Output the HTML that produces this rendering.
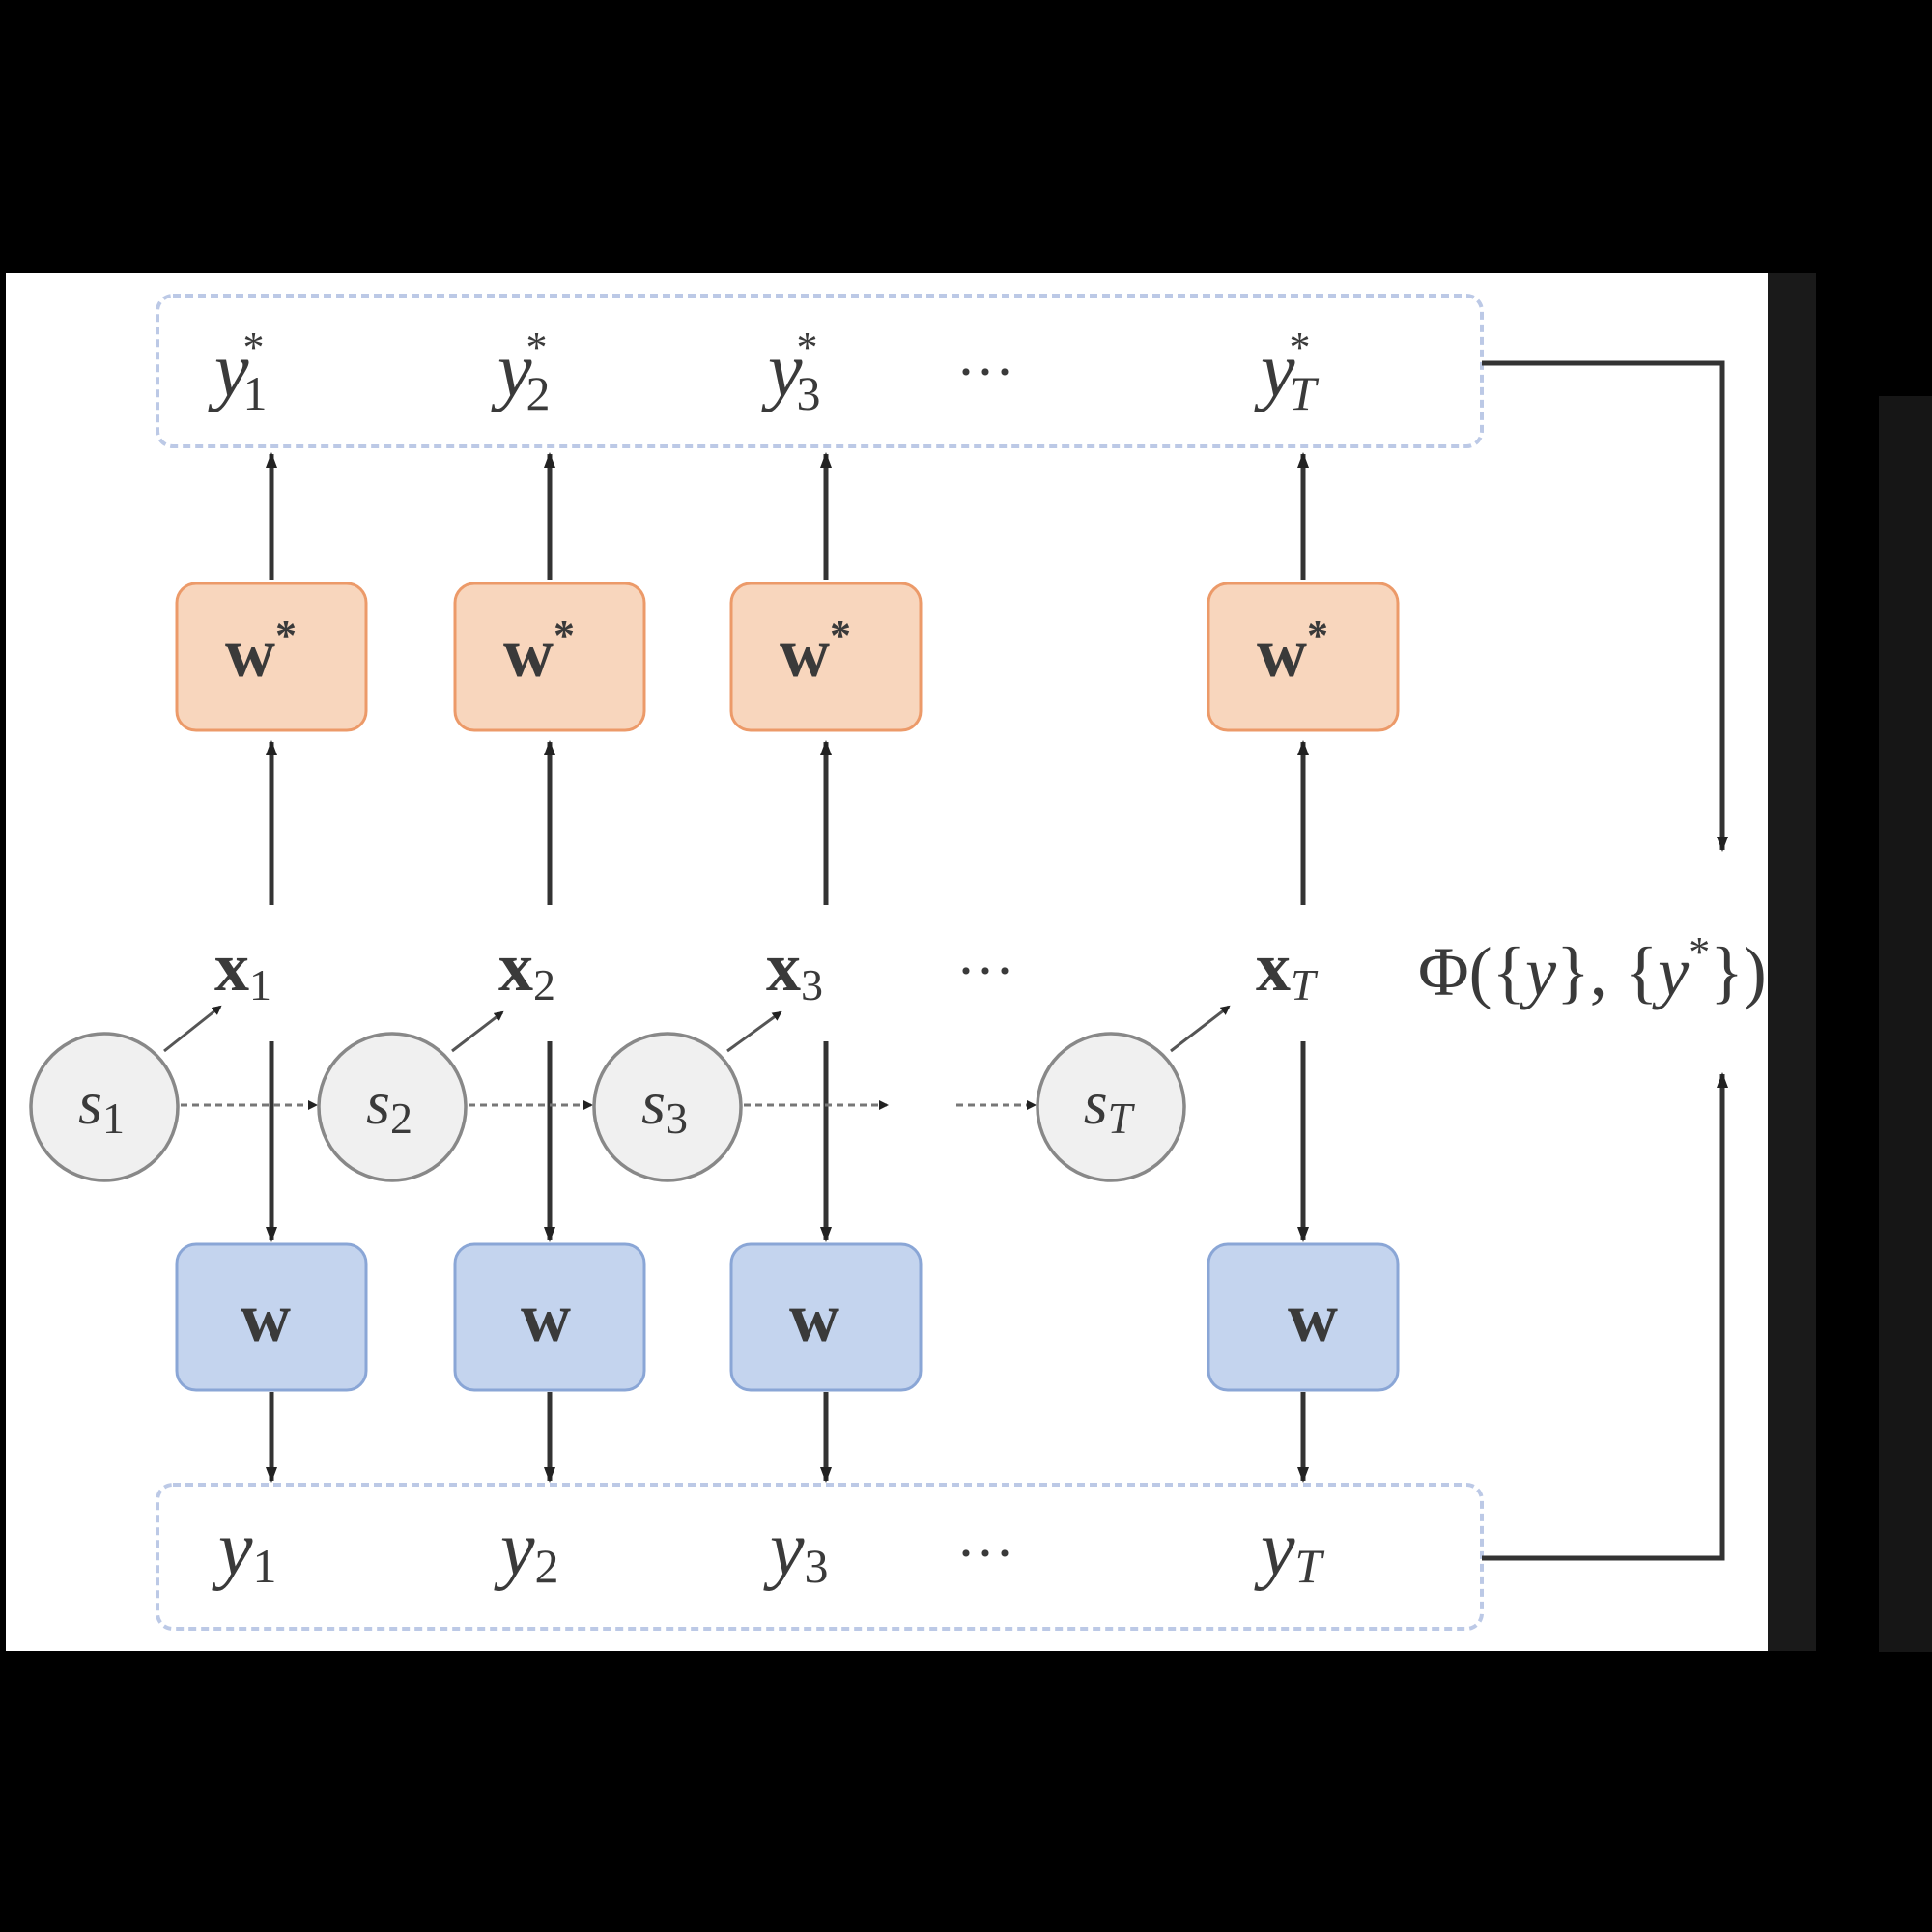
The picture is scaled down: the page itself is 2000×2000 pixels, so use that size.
<!DOCTYPE html>
<html><head><meta charset="utf-8"><style>
html,body{margin:0;padding:0;background:#000;}
svg{display:block}
text{font-family:"Liberation Serif",serif;fill:#3a3a3a}
</style></head><body>
<svg width="2000" height="2000" viewBox="0 0 2000 2000" xmlns="http://www.w3.org/2000/svg">
<defs>
<marker id="a" markerWidth="10" markerHeight="10" refX="8" refY="5" orient="auto" markerUnits="userSpaceOnUse"><path d="M0,0 L10,5 L0,10 Z" fill="#222"/></marker>
<marker id="b" markerWidth="16" markerHeight="16" refX="14" refY="8" orient="auto" markerUnits="userSpaceOnUse"><path d="M0,2 L16,8 L0,14 Z" fill="#222"/></marker>
<clipPath id="c"><rect x="6" y="283" width="1824" height="1426"/></clipPath>
</defs>
<rect x="0" y="0" width="2000" height="2000" fill="#000"/>
<rect x="1830" y="283" width="50" height="1426" fill="#1a1a1a"/>
<rect x="1945" y="410" width="55" height="1300" fill="#161616"/>
<rect x="6" y="283" width="1824" height="1426" fill="#fff"/>
<g clip-path="url(#c)">
<rect x="163" y="306" width="1371" height="156" rx="16" fill="none" stroke="#bcc9e6" stroke-width="4" stroke-dasharray="8,5"/>
<rect x="163" y="1537" width="1371" height="149" rx="16" fill="none" stroke="#bcc9e6" stroke-width="4" stroke-dasharray="8,5"/>
<g stroke="#333" stroke-width="5" fill="none">
<path d="M1534,376 H1783 V880" marker-end="url(#b)"/>
<path d="M1534,1613 H1783 V1112" marker-end="url(#b)"/>
</g>
<g stroke="#333" stroke-width="5">
<line x1="281" y1="937" x2="281" y2="768" marker-end="url(#b)"/>
<line x1="281" y1="600" x2="281" y2="470" marker-end="url(#b)"/>
<line x1="281" y1="1078" x2="281" y2="1284" marker-end="url(#b)"/>
<line x1="281" y1="1441" x2="281" y2="1533" marker-end="url(#b)"/>
<line x1="569" y1="937" x2="569" y2="768" marker-end="url(#b)"/>
<line x1="569" y1="600" x2="569" y2="470" marker-end="url(#b)"/>
<line x1="569" y1="1078" x2="569" y2="1284" marker-end="url(#b)"/>
<line x1="569" y1="1441" x2="569" y2="1533" marker-end="url(#b)"/>
<line x1="855" y1="937" x2="855" y2="768" marker-end="url(#b)"/>
<line x1="855" y1="600" x2="855" y2="470" marker-end="url(#b)"/>
<line x1="855" y1="1078" x2="855" y2="1284" marker-end="url(#b)"/>
<line x1="855" y1="1441" x2="855" y2="1533" marker-end="url(#b)"/>
<line x1="1349" y1="937" x2="1349" y2="768" marker-end="url(#b)"/>
<line x1="1349" y1="600" x2="1349" y2="470" marker-end="url(#b)"/>
<line x1="1349" y1="1078" x2="1349" y2="1284" marker-end="url(#b)"/>
<line x1="1349" y1="1441" x2="1349" y2="1533" marker-end="url(#b)"/>
</g>
<g fill="#f8d6bd" stroke="#ec9a69" stroke-width="3">
<rect x="183" y="604" width="196" height="152" rx="20"/>
<rect x="471" y="604" width="196" height="152" rx="20"/>
<rect x="757" y="604" width="196" height="152" rx="20"/>
<rect x="1251" y="604" width="196" height="152" rx="20"/>
</g>
<g fill="#c4d4ee" stroke="#8aa6d6" stroke-width="3">
<rect x="183" y="1288" width="196" height="151" rx="20"/>
<rect x="471" y="1288" width="196" height="151" rx="20"/>
<rect x="757" y="1288" width="196" height="151" rx="20"/>
<rect x="1251" y="1288" width="196" height="151" rx="20"/>
</g>
<g font-weight="bold" font-size="72" text-anchor="middle">
<text x="270" y="700">w<tspan font-size="44" dy="-28">*</tspan></text>
<text x="558" y="700">w<tspan font-size="44" dy="-28">*</tspan></text>
<text x="844" y="700">w<tspan font-size="44" dy="-28">*</tspan></text>
<text x="1338" y="700">w<tspan font-size="44" dy="-28">*</tspan></text>
<text x="275" y="1388">w</text>
<text x="565" y="1388">w</text>
<text x="843" y="1388">w</text>
<text x="1359" y="1388">w</text>
</g>
<g font-size="72">
<text x="222" y="1025" font-weight="bold">x<tspan font-weight="normal" font-size="46" dy="10">1</tspan></text>
<text x="516" y="1025" font-weight="bold">x<tspan font-weight="normal" font-size="46" dy="10">2</tspan></text>
<text x="793" y="1025" font-weight="bold">x<tspan font-weight="normal" font-size="46" dy="10">3</tspan></text>
<text x="1300" y="1025" font-weight="bold">x<tspan font-weight="normal" font-size="46" dy="10" font-style="italic">T</tspan></text>
<text x="990" y="1025" font-size="60">···</text>
<text x="1468" y="1030">Φ({<tspan font-style="italic">y</tspan>}, {<tspan font-style="italic">y</tspan><tspan font-size="44" dy="-30">*</tspan><tspan dy="30">})</tspan></text>
</g>
<g font-size="80" font-style="italic">
<text x="222" y="410">y<tspan font-size="44" font-style="normal" dy="-36" dx="-6">*</tspan><tspan font-size="50" font-style="normal" dy="50" dx="-22">1</tspan></text>
<text x="515" y="410">y<tspan font-size="44" font-style="normal" dy="-36" dx="-6">*</tspan><tspan font-size="50" font-style="normal" dy="50" dx="-22">2</tspan></text>
<text x="795" y="410">y<tspan font-size="44" font-style="normal" dy="-36" dx="-6">*</tspan><tspan font-size="50" font-style="normal" dy="50" dx="-22">3</tspan></text>
<text x="1305" y="410">y<tspan font-size="44" font-style="normal" dy="-36" dx="-6">*</tspan><tspan font-size="50" dy="50" dx="-22">T</tspan></text>
<text x="990" y="405" font-style="normal" font-size="60">···</text>
<text x="226" y="1630">y<tspan font-size="50" font-style="normal" dy="8">1</tspan></text>
<text x="518" y="1630">y<tspan font-size="50" font-style="normal" dy="8">2</tspan></text>
<text x="797" y="1630">y<tspan font-size="50" font-style="normal" dy="8">3</tspan></text>
<text x="1305" y="1630">y<tspan font-size="50" dy="8">T</tspan></text>
<text x="990" y="1628" font-style="normal" font-size="60">···</text>
</g>
<g stroke="#777" stroke-width="3" stroke-dasharray="7,5" fill="none">
<line x1="187" y1="1144" x2="327" y2="1144" marker-end="url(#a)"/>
<line x1="485" y1="1144" x2="612" y2="1144" marker-end="url(#a)"/>
<line x1="770" y1="1144" x2="918" y2="1144" marker-end="url(#a)"/>
<line x1="990" y1="1144" x2="1071" y2="1144" marker-end="url(#a)"/>
</g>
<g stroke="#555" stroke-width="3" fill="none">
<line x1="170" y1="1088" x2="228" y2="1042" marker-end="url(#a)"/>
<line x1="468" y1="1088" x2="520" y2="1048" marker-end="url(#a)"/>
<line x1="753" y1="1088" x2="808" y2="1048" marker-end="url(#a)"/>
<line x1="1212" y1="1088" x2="1272" y2="1042" marker-end="url(#a)"/>
</g>
<g fill="#f0f0f0" stroke="#888" stroke-width="3.5">
<circle cx="108" cy="1146" r="76"/>
<circle cx="406" cy="1146" r="76"/>
<circle cx="691" cy="1146" r="76"/>
<circle cx="1150" cy="1146" r="76"/>
</g>
<g font-size="64" font-style="italic" text-anchor="middle">
<text x="105" y="1163">s<tspan font-style="normal" font-size="46" dy="10">1</tspan></text>
<text x="403" y="1163">s<tspan font-style="normal" font-size="46" dy="10">2</tspan></text>
<text x="688" y="1163">s<tspan font-style="normal" font-size="46" dy="10">3</tspan></text>
<text x="1147" y="1163">s<tspan font-size="46" dy="10">T</tspan></text>
</g>
</g>
</svg>
</body></html>
